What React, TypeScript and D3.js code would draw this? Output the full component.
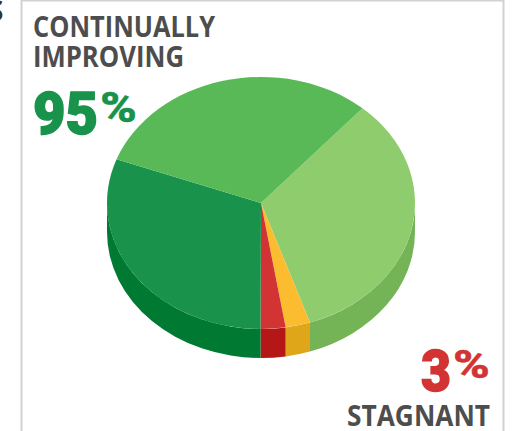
import React from "react";
import * as d3 from "d3";

// Slices clockwise, starting at the upper right
const categories = ["Improving a lot", "Unclear", "Stagnant", "Improving some", "Improving"];
const values = [33.4, 2.6, 2.6, 30.6, 30.8];
const topColors = ["#8fcc6e", "#fbbc30", "#d13433", "#19934c", "#58b956"];
const wallColors = ["#75b357", "#e0a61a", "#b51717", "#007a33", "#3f9a3f"];

const width = 514;
const height = 431;

// Tilted pie: drawn on a unit circle and squashed by the transform
const cx = 261;
const cy = 203;
const rx = 154;
const ry = 126;
const depth = 29;
const startAngle = (41.2 * Math.PI) / 180;

const pie = d3
  .pie<number>()
  .sort(null)
  .startAngle(startAngle)
  .endAngle(startAngle + 2 * Math.PI);

const arc = d3
  .arc<d3.PieArcDatum<number>>()
  .innerRadius(0)
  .outerRadius(1);

// Side wall of a slice, only the part that faces the viewer
const wallPath = (a0: number, a1: number) => {
  const from = Math.max(a0, Math.PI / 2);
  const to = Math.min(a1, (3 * Math.PI) / 2);
  if (to <= from) return null;
  const d = depth / ry;
  const p = d3.path();
  p.arc(0, 0, 1, from - Math.PI / 2, to - Math.PI / 2);
  p.arc(0, d, 1, to - Math.PI / 2, from - Math.PI / 2, true);
  p.closePath();
  return p.toString();
};

const labelFont = "'Open Sans', sans-serif";
const bigFont = "Roboto, sans-serif";

const App: React.FC = () => {
  const slices = pie(values);
  return (
    <svg
      width={width}
      height={height}
      style={{ position: "absolute", left: 0, top: 0, background: "#fff" }}
    >
      {/* panel frame */}
      <path d="M21.5 431V0.5H503.5V431" fill="none" stroke="#d2d2d2" strokeWidth={2} />
      <text x={-12} y={21} fontFamily={labelFont} fontWeight={700} fontSize={28} fill="#333">
        S
      </text>

      <g transform={`translate(${cx},${cy}) scale(${rx},${ry})`}>
        {slices.map((s, i) => {
          const d = wallPath(s.startAngle, s.endAngle);
          return d ? <path key={categories[i]} d={d} fill={wallColors[i]} /> : null;
        })}
        {slices.map((s, i) => (
          <path key={categories[i]} d={arc(s) as string} fill={topColors[i]} />
        ))}
      </g>

      <g fontFamily={labelFont} fontWeight={700} fontSize={28} fill="#4d4d4d">
        <text x={33} y={37} textLength={182} lengthAdjust="spacingAndGlyphs">
          CONTINUALLY
        </text>
        <text x={33} y={67} textLength={151} lengthAdjust="spacingAndGlyphs">
          IMPROVING
        </text>
        <text x={347} y={426} textLength={143} lengthAdjust="spacingAndGlyphs">
          STAGNANT
        </text>
      </g>

      <g fontFamily={bigFont} fontWeight={900}>
        <g fill="#19934c" stroke="#19934c">
          <text x={33} y={134} fontSize={59} strokeWidth={1.5} textLength={65} lengthAdjust="spacingAndGlyphs">
            95
          </text>
          <text x={100} y={122} fontSize={43} strokeWidth={0.3} textLength={37} lengthAdjust="spacingAndGlyphs">
            %
          </text>
        </g>
        <g fill="#d13433" stroke="#d13433">
          <text x={421} y={391} fontSize={58} strokeWidth={1.5} textLength={30} lengthAdjust="spacingAndGlyphs">
            3
          </text>
          <text x={453} y={378} fontSize={38} strokeWidth={0.3} textLength={37} lengthAdjust="spacingAndGlyphs">
            %
          </text>
        </g>
      </g>
    </svg>
  );
};

export default App;
